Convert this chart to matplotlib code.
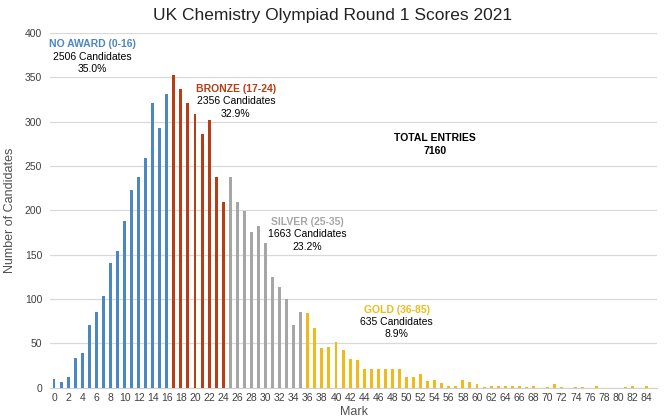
import matplotlib.pyplot as plt
import numpy as np

plt.rcParams['font.family'] = ['Liberation Sans', 'DejaVu Sans']

# candidates per mark
no_award = [10, 6, 12, 33, 39, 71, 85, 103, 140, 154, 188, 223, 237, 259, 321, 293, 331]
bronze = [352, 337, 321, 308, 286, 302, 238, 209]
silver = [238, 209, 199, 175, 182, 163, 125, 114, 100, 71, 85]
gold = [84, 67, 45, 46, 51, 42, 32, 31, 21, 21, 21, 21, 21, 21, 12, 12, 15, 7, 9, 5,
        2, 2, 9, 6, 4, 1, 2, 2, 2, 2, 2, 1, 2, 0, 1, 4, 1, 0, 1, 1, 0, 2, 0, 0, 0,
        1, 2, 0, 2, 0]

groups = [
    ('NO AWARD (0-16)', 0, no_award, '#4a87c3', '2506 Candidates', '35.0%', 5.5, 387),
    ('BRONZE (17-24)', 17, bronze, '#b83c14', '2356 Candidates', '32.9%', 25.8, 337),
    ('SILVER (25-35)', 25, silver, '#a6a6a6', '1663 Candidates', '23.2%', 35.9, 187),
    ('GOLD (36-85)', 36, gold, '#f0bb1a', '635 Candidates', '8.9%', 48.6, 88),
]

fig = plt.figure(figsize=(6.67, 4.17), dpi=100)
ax = fig.add_axes([0.0757, 0.0703, 0.909, 0.851])

for name, start, vals, col, cand, pct, tx, ty in groups:
    x = np.arange(start, start + len(vals))
    ax.bar(x, vals, width=0.42, color=col, zorder=3)
    ax.text(tx, ty, name, color=col, fontsize=7.5, fontweight='bold', ha='center', va='center')
    ax.text(tx, ty - 14, cand, color='black', fontsize=7.5, ha='center', va='center')
    ax.text(tx, ty - 28, pct, color='black', fontsize=7.5, ha='center', va='center')

ax.text(54, 282, 'TOTAL ENTRIES', fontsize=7.5, fontweight='bold', ha='center', va='center')
ax.text(54, 267, '7160', fontsize=7.5, fontweight='bold', ha='center', va='center')

ax.set_xlim(-0.5, 85.5)
ax.set_ylim(0, 400)
ax.set_yticks(range(0, 401, 50))
ax.set_xticks(range(0, 85, 2))
ax.tick_params(axis='both', length=0, labelsize=7.5, labelcolor='#404040')
ax.tick_params(axis='y', pad=6)
ax.tick_params(axis='x', pad=4)
ax.grid(axis='y', color='#d9d9d9', linewidth=0.9, zorder=0)
for s in ['top', 'right', 'left']:
    ax.spines[s].set_visible(False)
ax.spines['bottom'].set_color('#d0d0d0')

fig.text(0.498, 0.963, 'UK Chemistry Olympiad Round 1 Scores 2021', fontsize=12.5,
         color='#222222', ha='center', va='center')
ax.set_ylabel('Number of Candidates', fontsize=9, color='#505050', labelpad=4)
ax.yaxis.set_label_coords(-0.057, 0.5)
ax.set_xlabel('Mark', fontsize=9, color='#505050', labelpad=2)

fig.savefig('out.png', dpi=100)
